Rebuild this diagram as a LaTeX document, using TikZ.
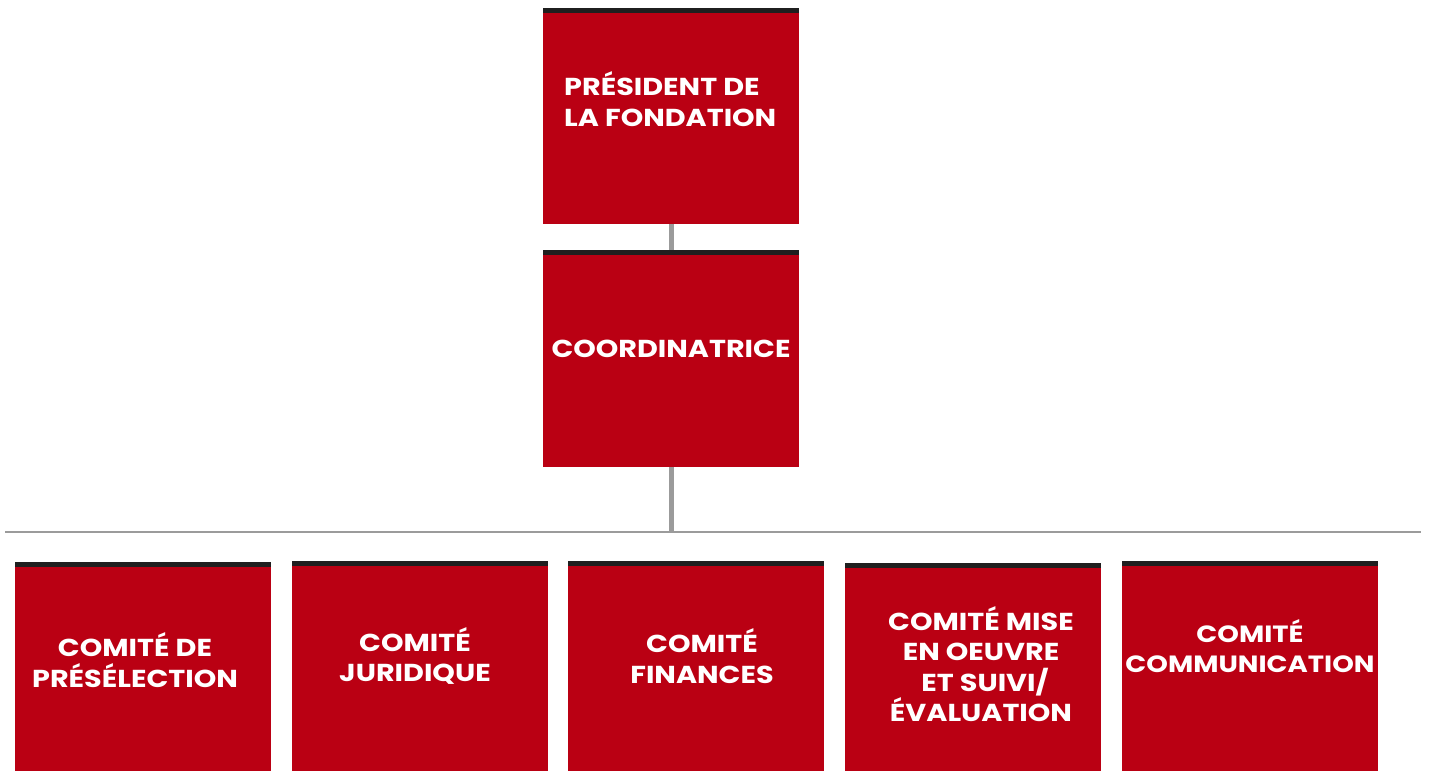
\documentclass[tikz,border=0pt]{standalone}
\usepackage{fontspec}
\setmainfont{Poppins}[FakeStretch=1.17]
\definecolor{boxred}{HTML}{BA0013}
\definecolor{bandc}{HTML}{1F1F1F}
\definecolor{connc}{HTML}{9B9B9B}
\begin{document}
\begin{tikzpicture}[x=1pt,y=-1pt,
  box/.style={fill=boxred, draw=none, minimum width=256pt, inner sep=0pt, outer sep=0pt, anchor=north west},
  lbl/.style={text=white, font=\bfseries\fontsize{24.5}{30.5}\selectfont, align=center, inner sep=0pt},
  conn/.style={draw=connc, line width=5pt},
  hline/.style={draw=connc, line width=2pt},
  band/.style={fill=bandc}
]
\useasboundingbox (0,0) rectangle (1431,771);
% boxes
\node[box, minimum height=216pt] (pres) at (543,8) {};
\node[box, minimum height=217pt] (coord) at (543,250) {};
\node[box, minimum height=209pt] (c1) at (15,562) {};
\node[box, minimum height=210pt] (c2) at (292,561) {};
\node[box, minimum height=210pt] (c3) at (568,561) {};
\node[box, minimum height=208pt] (c4) at (845,563) {};
\node[box, minimum height=210pt] (c5) at (1122,561) {};
% dark top bands
\foreach \b in {pres,coord,c1,c2,c3,c4,c5}
  \fill[band] (\b.north west) rectangle ([yshift=-5pt]\b.north east);
% connectors
\coordinate (hl) at (5,532);
\coordinate (hr) at (1421,532);
\draw[hline] (hl) -- (hr);
\draw[conn] ([xshift=0.5pt]pres.south) -- ([xshift=0.5pt]coord.north);
\draw[conn] ([xshift=0.5pt]coord.south) -- ([xshift=0.5pt]coord.south |- hl);
% labels
\node[lbl, align=left, anchor=west] (tpres) at (564,99) {PRÉSIDENT DE\\LA FONDATION};
\node[lbl] (tcoord) at (671,349) {COORDINATRICE};
\node[lbl] (t1) at (135,660) {COMITÉ DE\\PRÉSÉLECTION};
\node[lbl] (t2) at (415,656) {COMITÉ\\JURIDIQUE};
\node[lbl] (t3) at (702,656) {COMITÉ\\FINANCES};
\node[lbl] (t4) at (981,664) {COMITÉ MISE\\EN OEUVRE\\\hspace*{8pt}ET SUIVI/\\ÉVALUATION};
\node[lbl, font=\bfseries\fontsize{23.5}{30.5}\selectfont] (t5) at (1250,646) {COMITÉ\\COMMUNICATION};
\end{tikzpicture}
\end{document}
